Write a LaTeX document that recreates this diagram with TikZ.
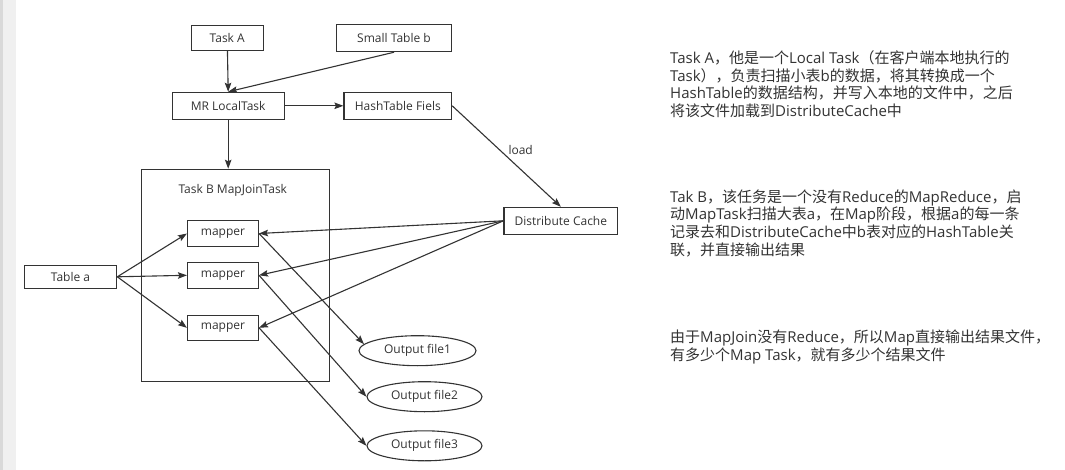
\documentclass[tikz,border=0pt]{standalone}
\usepackage{fontspec}
\setmainfont{Open Sans}
\newfontfamily\zhfont{Noto Sans CJK SC}
\newcommand\zh[1]{{\zhfont #1}}
\usetikzlibrary{arrows.meta,shapes.geometric}
\definecolor{ink}{HTML}{333333}
\begin{document}
\begin{tikzpicture}[x=1pt,y=-1pt,
  box/.style={draw=ink,line width=1.1pt,text=ink,font=\fontsize{12}{14}\selectfont,inner sep=0pt,fill=white},
  oval/.style={box,ellipse},
  arr/.style={draw=ink,line width=1.1pt,-{Stealth[length=9pt,width=6.5pt,inset=1.5pt]}},
  note/.style={anchor=base west,inner sep=0pt,text=ink,font=\fontsize{15}{17}\selectfont},
  lbl/.style={inner sep=0pt,text=ink,font=\fontsize{12}{14}\selectfont}]
\useasboundingbox (0,0) rectangle (1065,470);
\fill[white] (0,0) rectangle (1065,470);
\fill[black!6] (0,0) rectangle (16,470);
\fill[black!15] (0,0) rectangle (3,470);

\node[box,minimum width=187.8pt,minimum height=212pt] (tb) at (235.7,275.3) {};
\node[lbl] (tblabel) at (232.8,190) {Task B MapJoinTask};

\node[box,minimum width=71.7pt,minimum height=25pt] (taskA) at (227.2,37.8) {Task A};
\node[box,minimum width=115.4pt,minimum height=27.4pt] (smallb) at (394,38) {Small Table b};
\node[box,minimum width=111.7pt,minimum height=27pt] (mrl) at (228.2,105.8) {MR LocalTask};
\node[box,minimum width=107.7pt,minimum height=27pt] (hash) at (397.8,105.8) {HashTable Fiels};
\node[box,minimum width=113.7pt,minimum height=27pt] (dc) at (560.8,220.8) {Distribute Cache};
\node[box,minimum width=71pt,minimum height=25.6pt] (m1) at (223,233.5) {mapper};
\node[box,minimum width=71pt,minimum height=26pt] (m2) at (223,275.3) {mapper};
\node[box,minimum width=71pt,minimum height=25pt] (m3) at (223,327.8) {mapper};
\node[box,minimum width=92.5pt,minimum height=23pt] (ta) at (70.5,276.8) {Table a};
\node[oval,minimum width=117pt,minimum height=30pt] (f1) at (417.5,350.7) {Output file1};
\node[oval,minimum width=115pt,minimum height=30pt] (f2) at (424.5,396.7) {Output file2};
\node[oval,minimum width=115pt,minimum height=30pt] (f3) at (424.5,445.8) {Output file3};

\draw[arr] (taskA) -- (mrl.north);
\draw[arr] (smallb.south) -- (mrl.north);
\draw[arr] (mrl.east) -- (hash.west);
\draw[arr] (mrl.south) -- (mrl.south |- tb.north);
\draw[arr] (hash.east) -- node[pos=0.44,anchor=west,xshift=8pt,lbl] (loadlbl) {load} (dc.north);
\draw[arr] (dc.west) -- (m1.east);
\draw[arr] (dc.west) -- (m2.east);
\draw[arr] (dc.west) -- (m3.east);
\draw[arr] (ta.east) -- (m1.west);
\draw[arr] (ta.east) -- (m2.west);
\draw[arr] (ta.east) -- (m3.west);
\draw[arr] (m1.east) -- (f1.173);
\draw[arr] (m2.east) -- (f2.west);
\draw[arr] (m3.east) -- (f3.west);

\node[note] (p1a) at (670,64) {Task A\zh{，他是一个}Local Task\zh{（在客户端本地执行的}};
\node[note] (p1b) at (670,81.5) {Task\zh{），负责扫描小表}b\zh{的数据，将其转换成一个}};
\node[note] (p1c) at (670,99) {HashTable\zh{的数据结构，并写入本地的文件中，之后}};
\node[note] (p1d) at (670,116.5) {\zh{将该文件加载到}DistributeCache\zh{中}};

\node[note] (p2a) at (670,202.4) {Tak B\zh{，该任务是一个没有}Reduce\zh{的}MapReduce\zh{，启}};
\node[note] (p2b) at (670,220) {\zh{动}MapTask\zh{扫描大表}a\zh{，在}Map\zh{阶段，根据}a\zh{的每一条}};
\node[note] (p2c) at (670,238) {\zh{记录去和}DistributeCache\zh{中}b\zh{表对应的}HashTable\zh{关}};
\node[note] (p2d) at (670,256) {\zh{联，并直接输出结果}};

\node[note] (p3a) at (670,342.4) {\zh{由于}MapJoin\zh{没有}Reduce\zh{，所以}Map\zh{直接输出结果文件，}};
\node[note] (p3b) at (670,360) {\zh{有多少个}Map Task\zh{，就有多少个结果文件}};
\end{tikzpicture}
\end{document}
